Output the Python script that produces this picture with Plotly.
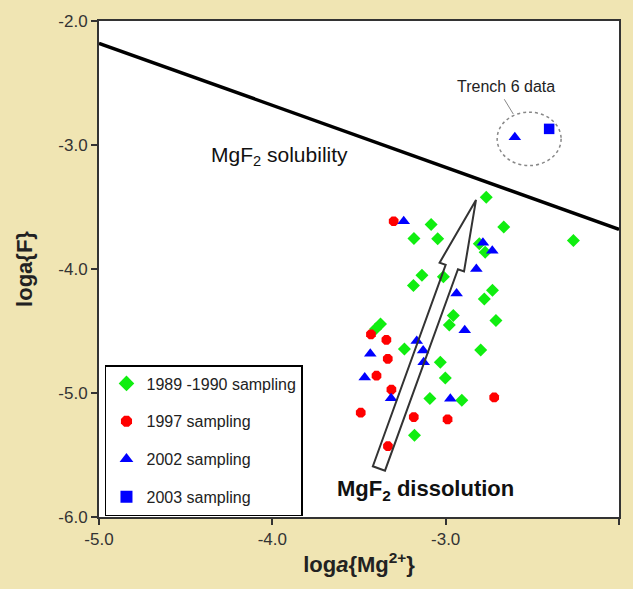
import plotly.graph_objects as go

# ---------------- data ----------------
g_x = [-2.766, -2.665, -2.263, -3.084, -3.183, -3.046, -3.137, -3.186, -3.013, -2.806,
       -2.772, -2.730, -2.777, -2.710, -2.956, -2.979, -3.376, -3.405, -2.798, -3.238,
       -3.031, -3.002, -3.091, -2.907, -3.180]
g_y = [-3.421, -3.661, -3.770, -3.642, -3.754, -3.756, -4.050, -4.134, -4.062, -3.796,
       -3.864, -4.172, -4.241, -4.415, -4.374, -4.451, -4.443, -4.483, -4.653, -4.645,
       -4.752, -4.880, -5.044, -5.058, -5.341]

r_x = [-3.300, -3.431, -3.342, -3.334, -3.399, -3.313, -3.490, -3.184, -2.989, -2.720, -3.333]
r_y = [-3.615, -4.527, -4.571, -4.724, -4.860, -4.972, -5.159, -5.194, -5.212, -5.036, -5.429]

b_x = [-3.242, -2.785, -2.731, -2.823, -2.937, -2.890, -3.167, -3.130, -3.127, -3.435,
       -3.467, -3.315, -2.973, -2.601]
b_y = [-3.615, -3.788, -3.852, -4.000, -4.198, -4.493, -4.581, -4.657, -4.753, -4.683,
       -4.874, -5.042, -5.046, -2.937]

s_x = [-2.403]
s_y = [-2.870]

sol_x = [-5.0, -2.0]
sol_y = [-2.18, -3.68]

series_names = ["1989 -1990 sampling", "1997 sampling", "2002 sampling", "2003 sampling"]

x_tickvals = [-5.0, -4.0, -3.0, -2.0]
x_ticktext = ["-5.0", "-4.0", "-3.0", "-2.0"]
y_tickvals = [-6.0, -5.0, -4.0, -3.0, -2.0]
y_ticktext = ["-6.0", "-5.0", "-4.0", "-3.0", "-2.0"]

# arrow outline (data coords)
arrow_x = [-3.420, -3.000, -3.035, -2.825, -2.894, -2.929, -3.350]
arrow_y = [-5.591, -3.966, -3.949, -3.443, -4.019, -4.002, -5.626]

# ---------------- figure ----------------
FONT = "Liberation Sans, Arial, sans-serif"
fig = go.Figure()

fig.add_trace(go.Scatter(x=sol_x, y=sol_y, mode="lines",
                         line=dict(color="black", width=3.5), showlegend=False,
                         hoverinfo="skip"))

fig.add_trace(go.Scatter(x=g_x, y=g_y, mode="markers", name=series_names[0],
                         legendgroup="a",
                         marker=dict(symbol="diamond", size=10, color="#10ee10")))
fig.add_trace(go.Scatter(x=r_x, y=r_y, mode="markers", name=series_names[1],
                         legendgroup="b",
                         marker=dict(symbol="octagon", size=10.5, color="#ff0000")))
fig.add_trace(go.Scatter(x=b_x, y=b_y, mode="markers", name=series_names[2],
                         legendgroup="c",
                         marker=dict(symbol="triangle-up", size=11, color="#0000ff")))
fig.add_trace(go.Scatter(x=s_x, y=s_y, mode="markers", name=series_names[3],
                         legendgroup="d",
                         marker=dict(symbol="square", size=10.5, color="#0000ff")))

path = "M " + " L ".join(f"{x},{y}" for x, y in zip(arrow_x, arrow_y)) + " Z"
fig.add_shape(type="path", path=path, xref="x", yref="y",
              line=dict(color="#333333", width=2), fillcolor="rgba(0,0,0,0)",
              layer="above")

# Trench 6 ellipse and leader
fig.add_shape(type="circle", xref="x", yref="y", x0=-2.703, x1=-2.334, y0=-2.735, y1=-3.166,
              line=dict(color="#888888", width=1.5, dash="dot"))
fig.add_shape(type="line", xref="x", yref="y", x0=-2.662, y0=-2.631, x1=-2.610, y1=-2.750,
              line=dict(color="#888888", width=1))

fig.add_annotation(x=-2.651, y=-2.527, xref="x", yref="y", text="Trench 6 data",
                   showarrow=False, font=dict(family=FONT, size=16, color="#222222"))
fig.add_annotation(x=-3.958, y=-3.086, xref="x", yref="y", text="MgF<sub>2</sub> solubility",
                   showarrow=False, font=dict(family=FONT, size=21, color="#111111"))
fig.add_annotation(x=-3.117, y=-5.784, xref="x", yref="y", text="<b>MgF<sub>2</sub> dissolution</b>",
                   showarrow=False, font=dict(family=FONT, size=22, color="#111111"))

fig.update_layout(
    width=633, height=589,
    margin=dict(l=99, r=13, t=16, b=72),
    paper_bgcolor="#f0e5b3",
    plot_bgcolor="white",
    font=dict(family=FONT, size=17, color="#333333"),
    legend=dict(x=0.0115, y=0.002, xanchor="left", yanchor="bottom",
                bgcolor="white", bordercolor="black", borderwidth=1.5,
                font=dict(family=FONT, size=16, color="#222222"),
                tracegroupgap=14, itemsizing="constant"),
    xaxis=dict(range=[-5, -2], tickvals=x_tickvals, ticktext=x_ticktext,
               ticks="outside", ticklen=6, tickwidth=1.5, tickcolor="#333333",
               showline=True, linecolor="#333333", linewidth=2, mirror=True,
               showgrid=False, zeroline=False,
               title=dict(text="<b>log<i>a</i>{Mg<sup>2+</sup>}</b>",
                          font=dict(family=FONT, size=22, color="#222222"), standoff=8)),
    yaxis=dict(range=[-6, -2], tickvals=y_tickvals, ticktext=y_ticktext,
               ticks="outside", ticklen=6, tickwidth=1.5, tickcolor="#333333",
               showline=True, linecolor="#333333", linewidth=2, mirror=True,
               showgrid=False, zeroline=False,
               title=dict(text="<b>loga{F}</b>",
                          font=dict(family=FONT, size=22, color="#222222"), standoff=20)),
)

fig.write_html("out.html")
